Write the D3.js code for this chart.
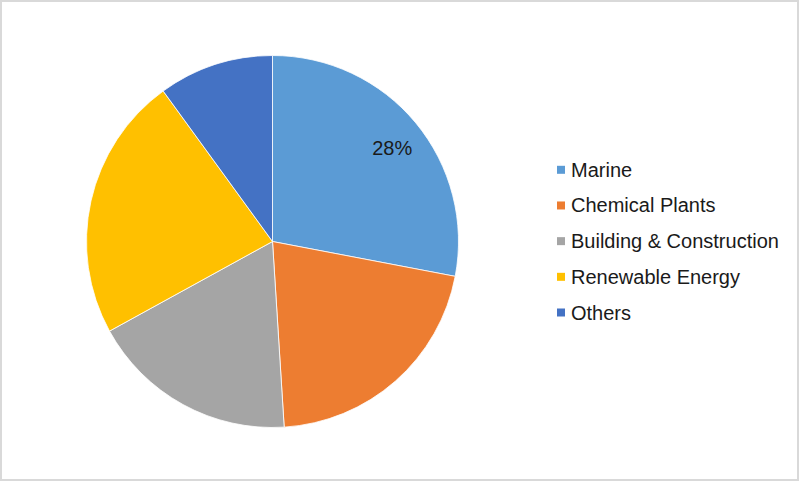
<!DOCTYPE html>
<html>
<head>
<meta charset="utf-8">
<script src="https://cdn.jsdelivr.net/npm/d3@7"></script>
<style>
  html, body { margin: 0; padding: 0; background: #fff; }
  svg { display: block; }
  text { font-family: "Liberation Sans", Arial, sans-serif; }
</style>
</head>
<body>
<svg id="chart" width="800" height="482"></svg>
<script>
// Market share by application (%)
const categories = ["Marine", "Chemical Plants", "Building & Construction", "Renewable Energy", "Others"];
const shares = [28, 21, 18, 23, 10];
const colors = ["#5B9BD5", "#ED7D31", "#A5A5A5", "#FFC000", "#4472C4"];
// only the first slice carries a data label
const showLabel = [true, false, false, false, false];

const W = 800, H = 482;
const cx = 272.5, cy = 241.5, R = 186;

const svg = d3.select("#chart");

// outer frame
svg.append("rect")
  .attr("x", 1).attr("y", 1)
  .attr("width", W - 3).attr("height", H - 3)
  .attr("fill", "#fff")
  .attr("stroke", "#d9d9d9")
  .attr("stroke-width", 2);

const data = categories.map((c, i) => ({ name: c, value: shares[i], color: colors[i], label: showLabel[i] }));

const pie = d3.pie().sort(null).value(d => d.value).startAngle(0).endAngle(2 * Math.PI);
const arc = d3.arc().innerRadius(0).outerRadius(R);
const labelArc = d3.arc().innerRadius(R * 0.825).outerRadius(R * 0.825);

const g = svg.append("g").attr("transform", `translate(${cx},${cy})`);
const arcs = pie(data);

g.selectAll("path.slice")
  .data(arcs)
  .join("path")
  .attr("class", "slice")
  .attr("d", arc)
  .attr("fill", d => d.data.color)
  .attr("stroke", "#fff")
  .attr("stroke-width", 0.8);

g.selectAll("text.value")
  .data(arcs.filter(d => d.data.label))
  .join("text")
  .attr("class", "value")
  .attr("transform", d => `translate(${labelArc.centroid(d)})`)
  .attr("text-anchor", "middle")
  .attr("dx", 1.5)
  .attr("dy", "0.56em")
  .attr("font-size", 20)
  .attr("fill", "#1a1a1a")
  .text(d => `${d.data.value}%`);

// legend
const legendY = d3.scalePoint().domain(categories).range([169.8, 312.5]);
const legend = svg.append("g");
const item = legend.selectAll("g.item")
  .data(data)
  .join("g")
  .attr("class", "item")
  .attr("transform", d => `translate(557,${legendY(d.name)})`);

item.append("rect")
  .attr("x", 0).attr("y", -4)
  .attr("width", 8).attr("height", 8)
  .attr("fill", d => d.color);

item.append("text")
  .attr("x", 14)
  .attr("y", 7)
  .attr("font-size", 20)
  .attr("fill", "#1a1a1a")
  .text(d => d.name);
</script>
</body>
</html>
